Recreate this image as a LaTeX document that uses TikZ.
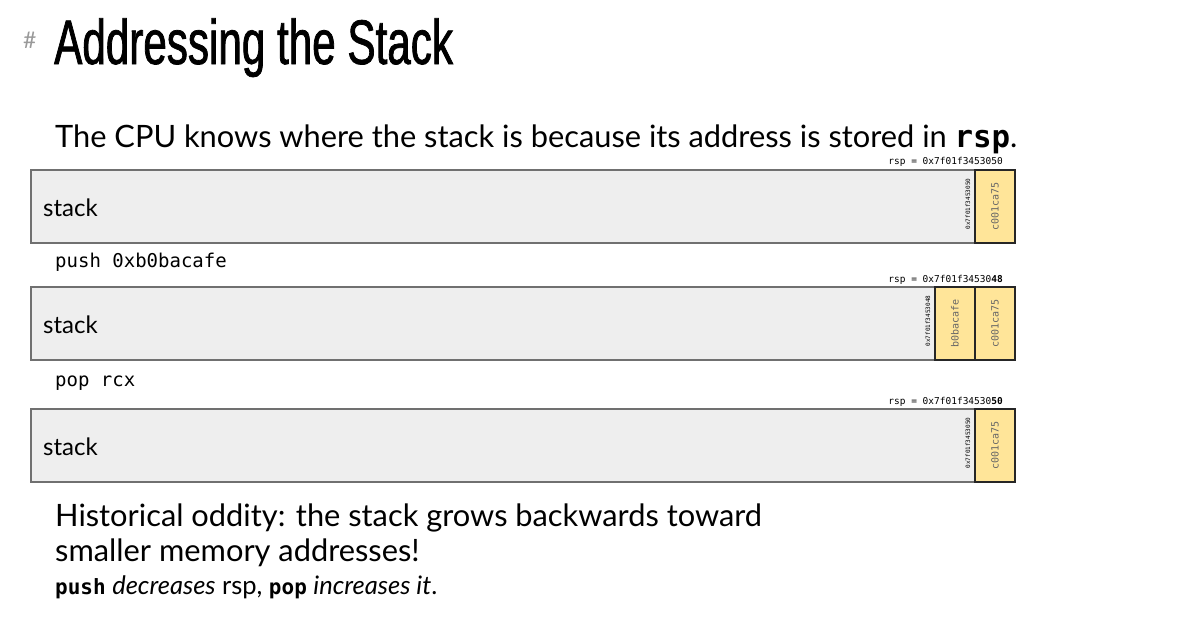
\documentclass[tikz,border=0pt]{standalone}
\usepackage{fontspec}
\usepackage{xcolor}
\setmainfont{Lato}
\setmonofont{DejaVu Sans Mono}
\newfontfamily\titlefont[FakeStretch=0.67, FakeBold=1.2]{Liberation Sans}

\definecolor{stackgray}{HTML}{EEEEEE}
\definecolor{edgegray}{HTML}{707070}
\definecolor{cellyellow}{HTML}{FFE599}

\tikzset{
  stackbox/.style={draw=edgegray, fill=stackgray, line width=1.2pt, minimum width=984pt, minimum height=73pt, inner sep=0pt},
  cell/.style={draw=black!85, fill=cellyellow, line width=1.2pt, minimum width=40pt, minimum height=73pt, inner sep=0pt},
  cellval/.style={rotate=90, inner sep=0pt, text=black!60, font=\ttfamily\fontsize{10}{10}\selectfont},
  addr/.style={rotate=90, inner sep=0pt, font=\ttfamily\fontsize{6}{6}\selectfont},
  rsplabel/.style={anchor=base east, inner sep=0pt, font=\ttfamily\fontsize{9.5}{10}\selectfont},
  stacklabel/.style={anchor=base west, inner sep=0pt, font=\fontsize{24}{26}\selectfont},
  instr/.style={anchor=base west, inner sep=0pt, font=\ttfamily\fontsize{19}{20}\selectfont},
  bigtext/.style={anchor=base west, inner sep=0pt, font=\fontsize{30.8}{36}\selectfont},
}

\begin{document}
\begin{tikzpicture}[x=1pt, y=-1pt]
\useasboundingbox[fill=white] (0,0) rectangle (1192,627);

% heading
\node (hash) [anchor=base west, inner sep=0pt, text=black!40, font=\fontsize{23}{23}\selectfont] at (23,48) {\#};
\node (title) [anchor=base west, inner sep=0pt, font=\titlefont\fontsize{63}{63}\selectfont] at (54,64) {Addressing the Stack};
\node (intro) [bigtext] at (55,147) {The CPU knows where the stack is because its address is stored in \texttt{\bfseries rsp}.};

% before push
\node (rsp1) [rsplabel] at (1003,164) {rsp = 0x7f01f3453050};
\node (box1) [stackbox] at (523,206.5) {};
\node (lbl1) [stacklabel] at (43,216) {stack};
\node (c1a) [cell] at (995,206.5) {};
\node (v1a) [cellval] at (c1a) {c001ca75};
\node (a1) [addr] at (968,204) {0x7f01f3453050};

\node (push) [instr] at (55,267) {push 0xb0bacafe};

% after push
\node (rsp2) [rsplabel] at (1003,282) {rsp = 0x7f01f34530\textbf{48}};
\node (box2) [stackbox] at (523,323.5) {};
\node (lbl2) [stacklabel] at (43,333) {stack};
\node (c2b) [cell] at (955,323.5) {};
\node (c2a) [cell] at (995,323.5) {};
\node (v2b) [cellval] at (c2b) {b0bacafe};
\node (v2a) [cellval] at (c2a) {c001ca75};
\node (a2) [addr] at (928,321) {0x7f01f3453048};

\node (pop) [instr] at (55,386) {pop rcx};

% after pop
\node (rsp3) [rsplabel] at (1003,404) {rsp = 0x7f01f34530\textbf{50}};
\node (box3) [stackbox] at (523,445.5) {};
\node (lbl3) [stacklabel] at (43,455) {stack};
\node (c3a) [cell] at (995,445.5) {};
\node (v3a) [cellval] at (c3a) {c001ca75};
\node (a3) [addr] at (968,443) {0x7f01f3453050};

% note
\node (odd1) [bigtext] at (55,526) {Historical oddity: the stack grows backwards toward};
\node (odd2) [bigtext] at (55,561) {smaller memory addresses!};
\node (odd3) [anchor=base west, inner sep=0pt, font=\fontsize{25.5}{28}\selectfont] at (55,594)
  {{\ttfamily\bfseries\fontsize{21}{24}\selectfont push} \textit{decreases} rsp, {\ttfamily\bfseries\fontsize{21}{24}\selectfont pop} \textit{increases it}.};
\end{tikzpicture}
\end{document}
